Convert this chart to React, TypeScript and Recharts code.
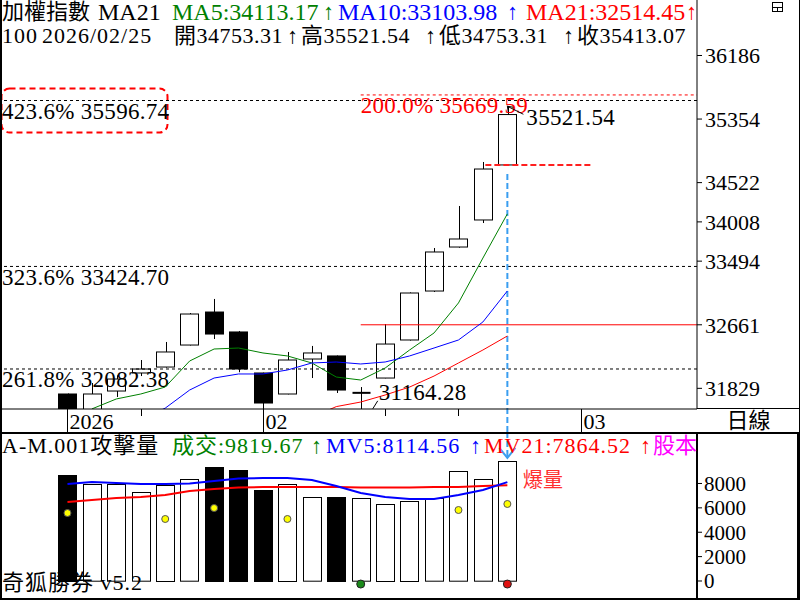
import React from "react";
import {
  ComposedChart,
  Bar,
  Line,
  XAxis,
  YAxis,
  ReferenceLine,
  ReferenceDot,
} from "recharts";

// trading days shown (daily candles)
const dates = [
  "01/21", "01/22", "01/23", "01/26", "01/27", "01/28", "01/29", "01/30",
  "02/02", "02/03", "02/04", "02/05", "02/06", "02/09", "02/10", "02/11",
  "02/23", "02/24", "02/25",
];
const opens = [31755, 31500, 31794, 32030, 32108, 32396, 32828, 32567, 32030, 31755, 32213, 32253, 31768, 31964, 32462, 33103, 33679, 34033, 34753.31];
const highs = [31762, 31899, 32000, 32200, 32436, 32815, 32999, 32580, 32035, 32305, 32384, 32260, 31846, 32671, 33085, 33666, 34216, 34792, 35521.54];
const lows = [31380, 31420, 31716, 31990, 32100, 32390, 32475, 32040, 31540, 31750, 31964, 31768, 31164.28, 31960, 32455, 33090, 33670, 33993, 34753.31];
const closes = [31470, 31755, 31951, 32082, 32305, 32802, 32540, 32082, 31637, 32200, 32292, 31807, 31770, 32409, 33077, 33614, 33784, 34700, 35413.07];

const ma5 = [null, 31560, 31690, 31755, 31846, 32187, 32344, 32357, 32292, 32253, 32161, 31977, 31938, 32095, 32331, 32554, 32947, 33535, 34113.17];
const ma10 = [null, null, null, 31420, 31570, 31807, 31964, 32017, 32017, 32069, 32161, 32174, 32148, 32174, 32253, 32357, 32462, 32698, 33103.98];
const ma21 = [null, null, null, null, null, null, null, null, null, null, 31450, 31590, 31650, 31742, 31846, 31990, 32161, 32331, 32514.45];

const volumes = [8696, 7933, 7933, 7276, 7875, 8343, 9352, 9106, 7465, 7957, 6866, 6891, 6784, 6317, 6563, 6784, 8999, 8343, 9819.67];
const mv5 = [7957, 8121, 8039, 7957, 7957, 7998, 8203, 8408, 8450, 8450, 8285, 7793, 7219, 6891, 6727, 6727, 7055, 7465, 8114.56];
const mv21 = [6481, 6645, 6809, 6891, 7055, 7383, 7547, 7670, 7711, 7711, 7711, 7711, 7670, 7670, 7670, 7711, 7711, 7793, 7864.52];
const volMarks = [5578, null, null, null, 5086, null, 5988, null, null, 5086, null, null, null, null, null, null, 5824, null, 6317];
const volSignals = [null, null, null, null, null, null, null, null, null, null, null, null, -250, null, null, null, null, null, -250];
const signalColors = ["", "", "", "", "", "", "", "", "", "", "", "", "#1a8a1a", "", "", "", "", "", "#e01010"];

// axis ticks
const priceTicks = [36186, 35354, 34522, 34008, 33494, 32661, 31829];
const volTicks = [0, 2000, 4000, 6000, 8000];
const dateTickIdx = [0, 3, 8, 13, 16, 21];
const dateTickLabels = ["2026", "", "02", "", "", "03"];

// fibonacci / target levels
const fibPct = ["423.6%", "323.6%", "261.8%"];
const fibVal = [35596.74, 33424.7, 32082.38];
const targetPct = "200.0%";
const targetVal = 35669.59;
const supportVal = 32661;

const FONT = '"Liberation Serif", "Noto Sans CJK TC", serif';
const X_DOMAIN = [-2.72, 25.76];
const PRICE_DOMAIN = [31558.6, 36912.5];
const VOL_DOMAIN = [-1395, 12223];

const rows = dates.map((d, i) => ({
  i,
  d,
  o: opens[i],
  h: highs[i],
  l: lows[i],
  c: closes[i],
  ma5: ma5[i],
  ma10: ma10[i],
  ma21: ma21[i],
  v: volumes[i],
  mv5: mv5[i],
  mv21: mv21[i],
  mark: volMarks[i],
  sig: volSignals[i],
  sigColor: signalColors[i],
}));

const Candle = (p: any) => {
  const { x, y, width, height, payload } = p;
  if (x == null || !payload) return null;
  const { o, h, l, c } = payload;
  const yTop = Math.min(y, y + height);
  const hh = Math.abs(height);
  const py = (v: number) => yTop + ((h - v) / (h - l || 1)) * hh;
  const left = Math.round(x) + 0.5;
  const cx = Math.round(x + width / 2) + 0.5;
  const top = py(Math.max(o, c));
  const bot = py(Math.min(o, c));
  const up = c >= o;
  return (
    <g>
      <line x1={cx} x2={cx} y1={yTop} y2={top} stroke="#000" />
      <line x1={cx} x2={cx} y1={bot} y2={yTop + hh} stroke="#000" />
      {bot - top < 1.5 ? (
        <line x1={left} x2={left + width - 1} y1={top} y2={top} stroke="#000" strokeWidth={2} />
      ) : (
        <rect x={left} y={top} width={width - 1} height={bot - top} fill={up ? "#fff" : "#000"} stroke="#000" />
      )}
    </g>
  );
};

const VolBar = (p: any) => {
  const { x, y, width, height, payload } = p;
  if (x == null || !payload) return null;
  const down = payload.c < payload.o;
  return (
    <rect x={Math.round(x) + 0.5} y={Math.round(y) + 0.5} width={width - 1} height={height} fill={down ? "#000" : "#fff"} stroke="#000" />
  );
};

const DateTick = (p: any) => {
  const { x, y, payload } = p;
  const k = dateTickIdx.indexOf(payload.value);
  const label = k >= 0 ? dateTickLabels[k] : "";
  const xx = Math.round(x) + 0.5;
  return (
    <g>
      <line x1={xx} x2={xx} y1={y} y2={y + (label ? 23 : 7)} stroke="#000" />
      {label ? (
        <text x={xx + 2} y={y + 12} dominantBaseline="central" fontSize={22} fontFamily={FONT} fill="#000">
          {label}
        </text>
      ) : null}
    </g>
  );
};

const FibLabel = ({ viewBox, text, boxed }: any) => {
  if (!viewBox) return null;
  const x = viewBox.x;
  const y = viewBox.y;
  return (
    <g>
      {boxed ? (
        <rect x={x + 0.5} y={y - 12} width={166} height={44} rx={8} fill="none" stroke="#ff0000" strokeWidth={2} strokeDasharray="6 4" />
      ) : null}
      <text x={x + 1} y={y + 11} dominantBaseline="central" fontSize={23} letterSpacing={0.3} fontFamily={FONT} fill="#000">
        {text}
      </text>
    </g>
  );
};

const TargetLabel = ({ viewBox }: any) => {
  if (!viewBox) return null;
  return (
    <text x={viewBox.x} y={viewBox.y + 11} dominantBaseline="central" fontSize={23} letterSpacing={0.3} fontFamily={FONT} fill="#ff0000">
      {targetPct} {targetVal.toFixed(2)}
    </text>
  );
};

const HighMark = (p: any) => {
  const { cx, cy } = p;
  if (cx == null) return null;
  return (
    <g>
      <line x1={cx} y1={cy} x2={cx + 16} y2={cy + 8} stroke="#000" />
      <line x1={cx} y1={cy} x2={cx + 1} y2={cy + 6} stroke="#000" />
      <line x1={cx} y1={cy} x2={cx + 6} y2={cy + 1} stroke="#000" />
      <text x={cx + 19} y={cy + 11} dominantBaseline="central" fontSize={23} letterSpacing={0.3} fontFamily={FONT} fill="#000">
        {highs[18].toFixed(2)}
      </text>
    </g>
  );
};

const LowMark = (p: any) => {
  const { cx, cy } = p;
  if (cx == null) return null;
  return (
    <g>
      <line x1={cx + 12} y1={cy + 16} x2={cx + 17} y2={cy + 8} stroke="#000" />
      <text x={cx + 18} y={cy} dominantBaseline="central" fontSize={23} letterSpacing={0.3} fontFamily={FONT} fill="#000">
        {lows[12].toFixed(2)}
      </text>
    </g>
  );
};

const ArrowHead = (p: any) => {
  const { cx, cy } = p;
  if (cx == null) return null;
  return (
    <polyline points={`${cx - 8},${cy - 10} ${cx},${cy} ${cx + 8},${cy - 10}`} fill="none" stroke="#3a9ef0" strokeWidth={2} />
  );
};

const SignalDot = (p: any) => {
  const { cx, cy, payload, index } = p;
  if (cx == null || cy == null || payload.sig == null) return <g key={index} />;
  return <circle key={index} cx={cx} cy={cy} r={4} fill={payload.sigColor} stroke="#222" />;
};

// one piece of header text, placed where the original terminal draws it
const Seg = ({ x, color, size, ls, children }: any) => (
  <span
    style={{
      position: "absolute",
      left: x,
      bottom: 0,
      color: color || "#000",
      fontSize: size || 22,
      letterSpacing: ls == null ? 1 : ls,
    }}
  >
    {children}
  </span>
);

const headRow = (top: number) => ({
  position: "absolute" as const,
  left: 0,
  top,
  width: 697,
  height: 24,
  overflow: "hidden",
  lineHeight: "24px",
  whiteSpace: "pre" as const,
});

export default function App() {
  return (
    <div
      style={{
        position: "absolute",
        left: 0,
        top: 0,
        width: 800,
        height: 600,
        background: "#fff",
        overflow: "hidden",
        fontFamily: FONT,
      }}
    >
      <div style={{ position: "absolute", left: 0, top: 0 }}>
        <ComposedChart width={800} height={433} data={rows} margin={{ top: 0, right: 0, bottom: 0, left: 1 }}>
          <XAxis
            dataKey="i"
            type="number"
            domain={X_DOMAIN}
            allowDataOverflow
            ticks={dateTickIdx}
            interval={0}
            tick={(p: any) => <DateTick {...p} />}
            tickLine={false}
            tickSize={0}
            tickMargin={0}
            height={24}
            axisLine={{ stroke: "#000" }}
          />
          <YAxis
            orientation="right"
            type="number"
            domain={PRICE_DOMAIN}
            allowDataOverflow
            ticks={priceTicks}
            interval={0}
            width={103}
            tickSize={5}
            tickMargin={3}
            tickLine={{ stroke: "#000" }}
            axisLine={{ stroke: "#000" }}
            tick={{ fontSize: 22, fill: "#000", fontFamily: FONT }}
          />
          {fibVal.map((v, k) => (
            <ReferenceLine
              key={v}
              y={v}
              stroke="#000"
              strokeDasharray="3 3"
              label={(lp: any) => <FibLabel {...lp} text={`${fibPct[k]} ${v.toFixed(2)}`} boxed={k === 0} />}
            />
          ))}
          <ReferenceLine
            segment={[{ x: 12, y: targetVal }, { x: X_DOMAIN[1], y: targetVal }]}
            stroke="#ff0000"
            strokeDasharray="3 3"
            label={(lp: any) => <TargetLabel {...lp} />}
          />
          <ReferenceLine
            segment={[{ x: 12, y: supportVal }, { x: X_DOMAIN[1], y: supportVal }]}
            stroke="#ff0000"
          />
          <ReferenceLine
            segment={[{ x: 17.1, y: opens[18] }, { x: 21.4, y: opens[18] }]}
            stroke="#ff2020"
            strokeWidth={2}
            strokeDasharray="6 3"
          />
          <ReferenceLine
            segment={[{ x: 18, y: 34635 }, { x: 18, y: 31245 }]}
            ifOverflow="visible"
            stroke="#3a9ef0"
            strokeWidth={2}
            strokeDasharray="6 3"
          />
          <Bar dataKey={(d: any) => [d.l, d.h]} barSize={19} shape={(p: any) => <Candle {...p} />} isAnimationActive={false} />
          <Line dataKey="ma5" stroke="#008000" strokeWidth={1} dot={false} isAnimationActive={false} />
          <Line dataKey="ma10" stroke="#0000ff" strokeWidth={1} dot={false} isAnimationActive={false} />
          <Line dataKey="ma21" stroke="#ff0000" strokeWidth={1} dot={false} isAnimationActive={false} />
          <ReferenceDot x={18} y={highs[18]} r={0} shape={(p: any) => <HighMark {...p} />} />
          <ReferenceDot x={12} y={closes[12]} r={0} shape={(p: any) => <LowMark {...p} />} />
        </ComposedChart>
      </div>

      <div style={{ position: "absolute", left: 0, top: 432 }}>
        <ComposedChart width={800} height={168} data={rows} margin={{ top: 0, right: 0, bottom: 2, left: 1 }}>
          <XAxis dataKey="i" type="number" domain={X_DOMAIN} allowDataOverflow hide />
          <YAxis
            orientation="right"
            type="number"
            domain={VOL_DOMAIN}
            allowDataOverflow
            ticks={volTicks}
            interval={0}
            width={103}
            tickSize={5}
            tickMargin={2}
            tickLine={{ stroke: "#000" }}
            axisLine={{ stroke: "#000", strokeWidth: 2 }}
            tick={{ fontSize: 21, fill: "#000", fontFamily: FONT }}
          />
          <Bar dataKey="v" barSize={19} shape={(p: any) => <VolBar {...p} />} isAnimationActive={false} />
          <Line dataKey="mv21" stroke="#ff0000" strokeWidth={2} dot={false} isAnimationActive={false} />
          <Line dataKey="mv5" stroke="#0000ff" strokeWidth={2} dot={false} isAnimationActive={false} />
          <Line dataKey="mark" stroke="none" dot={{ r: 3.5, fill: "#ffff00", stroke: "#555", strokeWidth: 1 }} isAnimationActive={false} />
          <Line dataKey="sig" stroke="none" dot={(p: any) => <SignalDot {...p} />} isAnimationActive={false} />
          <ReferenceLine
            segment={[{ x: 18, y: VOL_DOMAIN[1] }, { x: 18, y: 10150 }]}
            stroke="#3a9ef0"
            strokeWidth={2}
            strokeDasharray="6 3"
          />
          <ReferenceDot x={18} y={10100} r={0} shape={(p: any) => <ArrowHead {...p} />} />
        </ComposedChart>
      </div>

      {/* header texts */}
      <div style={headRow(0)}>
        <Seg x={2} ls={0}>加權指數</Seg>
        <Seg x={98} size={24} ls={0}>MA21</Seg>
        <Seg x={172} size={24} ls={0} color="#008000">MA5:34113.17</Seg>
        <Seg x={323} size={22} ls={0} color="#008000">↑</Seg>
        <Seg x={338} size={24} ls={0} color="#0000ff">MA10:33103.98</Seg>
        <Seg x={507} size={22} ls={0} color="#0000ff">↑</Seg>
        <Seg x={526} size={24} ls={0} color="#ff0000">MA21:32514.45</Seg>
        <Seg x={686} size={22} ls={0} color="#ff0000">↑</Seg>
      </div>
      <div style={headRow(24)}>
        <Seg x={2}>100</Seg>
        <Seg x={42}>2026/02/25</Seg>
        <Seg x={174} ls={0.5}>開34753.31</Seg>
        <Seg x={287} ls={0}>↑</Seg>
        <Seg x={301} ls={0.5}>高35521.54</Seg>
        <Seg x={425} ls={0}>↑</Seg>
        <Seg x={439} ls={0.5}>低34753.31</Seg>
        <Seg x={563} ls={0}>↑</Seg>
        <Seg x={577} ls={0.5}>收35413.07</Seg>
      </div>
      <div style={headRow(434)}>
        <Seg x={2}>A-M.001攻擊量</Seg>
        <Seg x={172} color="#008000">成交:9819.67</Seg>
        <Seg x={311} ls={0} color="#008000">↑</Seg>
        <Seg x={326} color="#0000ff">MV5:8114.56</Seg>
        <Seg x={470} ls={0} color="#0000ff">↑</Seg>
        <Seg x={484} color="#ff0000">MV21:7864.52</Seg>
        <Seg x={640} ls={0} color="#ff0000">↑</Seg>
        <Seg x={653} ls={0} color="#ff00ff">股本</Seg>
      </div>
      <div style={{ position: "absolute", left: 523, top: 468, fontSize: 20, color: "#ff3030", lineHeight: "24px" }}>爆量</div>
      <div style={{ position: "absolute", left: 2, top: 571, fontSize: 22, lineHeight: "24px", whiteSpace: "pre", letterSpacing: 1 }}>奇狐勝券 v5.2</div>

      {/* right panel */}
      <div style={{ position: "absolute", left: 697, top: 408, width: 103, height: 1, background: "#000" }} />
      <div style={{ position: "absolute", left: 697, top: 409, width: 103, height: 23, fontSize: 22, lineHeight: "23px", textAlign: "center" }}>日線</div>
      <div style={{ position: "absolute", left: 0, top: 432, width: 800, height: 2, background: "#000" }} />
      <div style={{ position: "absolute", left: 0, top: 598, width: 800, height: 2, background: "#000" }} />
      <div style={{ position: "absolute", left: 0, top: 0, width: 2, height: 600, background: "#000" }} />
      <div style={{ position: "absolute", left: 797, top: 432, width: 3, height: 168, background: "#000" }} />
      <div style={{ position: "absolute", left: 799, top: 0, width: 1, height: 432, background: "#000" }} />
      <div style={{ position: "absolute", left: 772, top: 2, width: 11, height: 10, border: "1px solid #000", boxSizing: "border-box" }}>
        <div style={{ position: "absolute", left: 0, top: 4, width: 9, height: 1, background: "#000" }} />
        <div style={{ position: "absolute", left: 4, top: 4, width: 1, height: 4, background: "#000" }} />
      </div>
    </div>
  );
}
